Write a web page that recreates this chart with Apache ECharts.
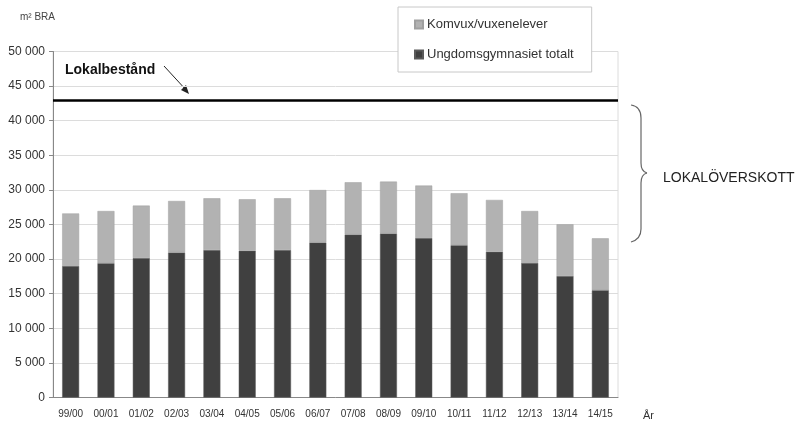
<!DOCTYPE html>
<html>
<head>
<meta charset="utf-8">
<script src="https://cdn.jsdelivr.net/npm/echarts@6/dist/echarts.min.js"></script>
<style>
  html, body { margin: 0; padding: 0; background: #fff; }
  #chart { width: 799px; height: 421px; }
</style>
</head>
<body>
<div id="chart"></div>
<script>
// läsår
const years = ['99/00', '00/01', '01/02', '02/03', '03/04', '04/05', '05/06', '06/07',
  '07/08', '08/09', '09/10', '10/11', '11/12', '12/13', '13/14', '14/15']
// m² BRA, ungdomsgymnasiet
const ungdom = [19000, 19400, 20150, 20950, 21300, 21200, 21300, 22400,
  23550, 23700, 23050, 22000, 21050, 19450, 17550, 15500]
// m² BRA, komvux/vuxenelever (staplas ovanpå)
const komvux = [7600, 7550, 7580, 7450, 7490, 7450, 7490, 7580,
  7550, 7500, 7580, 7520, 7500, 7500, 7480, 7500]
const lokalbestand = 43000

const chart = echarts.init(document.getElementById('chart'))
const font = 'Liberation Sans, Arial, sans-serif'

// klammer till höger om diagrammet
const braceStyle = { stroke: '#666', lineWidth: 1.2, fill: null }
const brace = [
  { type: 'bezierCurve', shape: { x1: 631, y1: 105, cpx1: 638, cpy1: 106, cpx2: 641, cpy2: 110, x2: 641, y2: 118 } },
  { type: 'line', shape: { x1: 641, y1: 118, x2: 641, y2: 163 } },
  { type: 'bezierCurve', shape: { x1: 641, y1: 163, cpx1: 641, cpy1: 169, cpx2: 643, cpy2: 172, x2: 647, y2: 173 } },
  { type: 'bezierCurve', shape: { x1: 647, y1: 173, cpx1: 643, cpy1: 174, cpx2: 641, cpy2: 177, x2: 641, y2: 183 } },
  { type: 'line', shape: { x1: 641, y1: 183, x2: 641, y2: 229 } },
  { type: 'bezierCurve', shape: { x1: 641, y1: 229, cpx1: 641, cpy1: 236, cpx2: 638, cpy2: 240, x2: 631, y2: 242 } }
].map(e => ({ ...e, style: braceStyle }))

chart.setOption({
  animation: false,
  textStyle: { fontFamily: font },
  grid: {
    left: 53, right: 181, top: 51.5, bottom: 23.5,
    show: true, borderColor: '#dcdcdc', borderWidth: 1
  },
  legend: {
    left: 398, top: 7,
    orient: 'vertical',
    data: ['Komvux/vuxenelever', 'Ungdomsgymnasiet totalt'],
    icon: 'rect',
    itemWidth: 8, itemHeight: 8, itemGap: 17,
    padding: [11, 18, 11, 16],
    backgroundColor: '#fff',
    borderColor: '#c8c8c8', borderWidth: 1,
    textStyle: { fontSize: 13, color: '#333', padding: [2, 0, 0, -1] }
  },
  xAxis: {
    type: 'category',
    data: years,
    axisLine: { lineStyle: { color: '#888' } },
    axisTick: { alignWithLabel: false, length: 4, lineStyle: { color: '#888' } },
    axisLabel: { color: '#333', fontSize: 10, margin: 12 },
    splitLine: { show: false }
  },
  yAxis: {
    type: 'value',
    min: 0, max: 50000, interval: 5000,
    axisLine: { show: true, lineStyle: { color: '#888' } },
    axisTick: { show: true, length: 4, lineStyle: { color: '#888' } },
    axisLabel: {
      color: '#333', fontSize: 12, margin: 8,
      formatter: v => String(v).replace(/\B(?=(\d{3})+(?!\d))/g, ' ')
    },
    splitLine: { lineStyle: { color: '#dcdcdc' } }
  },
  series: [
    {
      name: 'Ungdomsgymnasiet totalt',
      type: 'bar',
      stack: 'tot',
      barWidth: '48%',
      data: ungdom,
      itemStyle: { color: '#404040', borderColor: '#5a5a5a', borderWidth: 0.5 },
      markLine: {
        silent: true,
        symbol: 'none',
        label: { show: false },
        lineStyle: { color: '#000', width: 2.5, type: 'solid' },
        data: [{ yAxis: lokalbestand }]
      }
    },
    {
      name: 'Komvux/vuxenelever',
      type: 'bar',
      stack: 'tot',
      data: komvux,
      itemStyle: { color: '#b2b2b2', borderColor: '#a0a0a0', borderWidth: 0.5 }
    }
  ],
  graphic: [
    {
      type: 'text', x: 20, y: 12,
      style: { text: 'm² BRA', fontSize: 10, fill: '#444', fontFamily: font }
    },
    {
      type: 'text', x: 65, y: 63,
      style: { text: 'Lokalbestånd', fontSize: 14, fontWeight: 'bold', fill: '#111', fontFamily: font }
    },
    {
      type: 'line',
      shape: { x1: 164, y1: 66, x2: 187, y2: 91 },
      style: { stroke: '#222', lineWidth: 1 }
    },
    {
      type: 'polygon',
      shape: { points: [[189, 94], [181, 90], [186, 85]] },
      style: { fill: '#222' }
    },
    ...brace,
    {
      type: 'text', x: 663, y: 178,
      style: { text: 'LOKALÖVERSKOTT', fontSize: 14, fill: '#222', fontFamily: font, verticalAlign: 'middle' }
    },
    {
      type: 'text', x: 643, y: 416,
      style: { text: 'År', fontSize: 11, fill: '#333', fontFamily: font, verticalAlign: 'middle' }
    }
  ]
})
</script>
</body>
</html>
